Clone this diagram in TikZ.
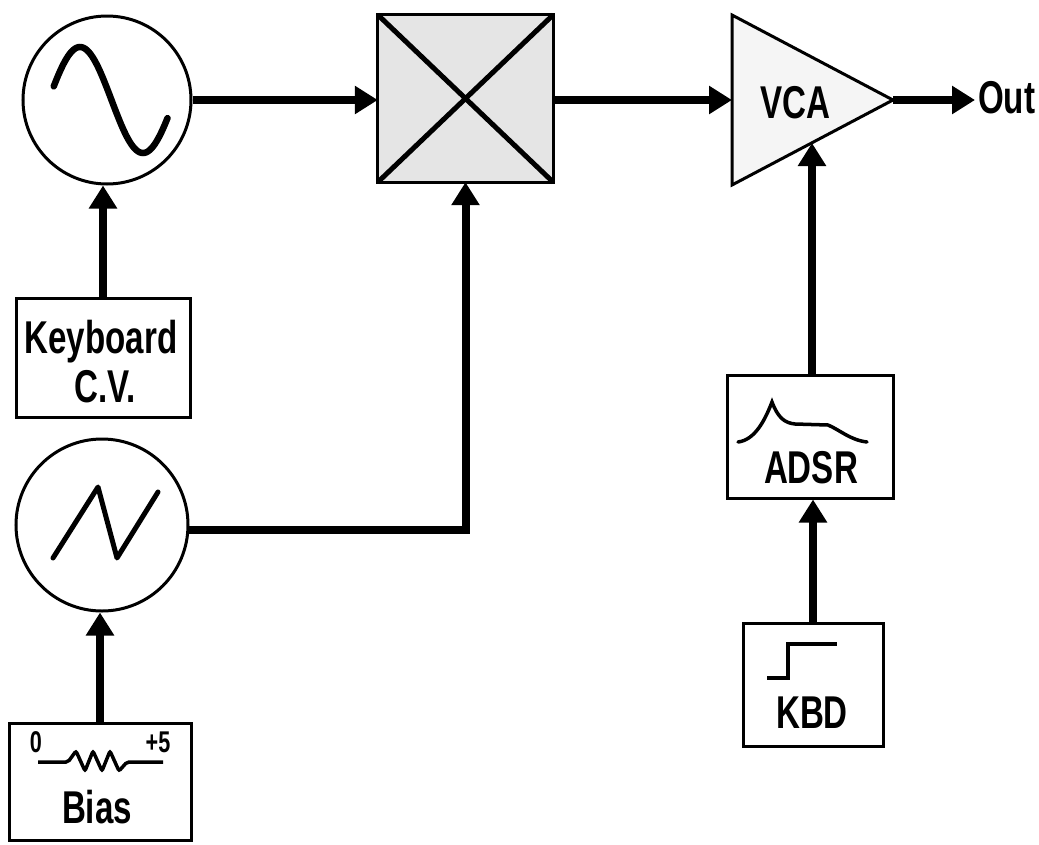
\documentclass[tikz,border=0pt]{standalone}
\usepackage{fontspec}
\setmainfont{Liberation Sans}[FakeStretch=0.72]
\usetikzlibrary{arrows.meta,calc}
\begin{document}
\begin{tikzpicture}[x=1pt,y=-1pt,
 box/.style={draw, line width=3pt, rectangle, inner sep=0pt},
 osc/.style={draw, line width=3pt, circle, inner sep=0pt},
 conn/.style={line width=8pt, -{Triangle[length=23pt,width=27pt]}},
 big/.style={font=\fontsize{46}{50}\selectfont\bfseries, inner sep=0pt},
 small/.style={font=\fontsize{30}{33}\selectfont\bfseries, inner sep=0pt},
 icon/.style={line width=5pt, line cap=round, line join=round}]
\useasboundingbox (0,0) rectangle (1039,844);
% oscillators and boxes
\node[osc, minimum size=168pt] (sine) at (107,100) {};
\node[fill=gray!20, inner sep=0pt, minimum width=175pt, minimum height=167pt] (mix) at (465.5,98.5) {};
\draw[line width=5pt] (mix.north west) -- (mix.south east) (mix.north east) -- (mix.south west);
\draw[line width=3pt] (mix.north west) rectangle (mix.south east);
\coordinate (vcaA) at (732,15);
\coordinate (vcaC) at (732,185);
\coordinate (vcaT) at (893,100);
\coordinate (vcaL) at (732,100);
\coordinate (vcaB) at (812,143);
\filldraw[fill=gray!8, line width=3pt, line join=miter] (vcaA) -- (vcaT) -- (vcaC) -- cycle;
\node[big, anchor=base] (vcalabel) at (795,118) {VCA};
\node[big, anchor=base west] (out) at (978,113) {Out};
\node[box, minimum width=174pt, minimum height=119pt] (kb) at (103,357.5) {};
\node[osc, minimum size=172pt] (saw) at (102,525) {};
\node[box, minimum width=182pt, minimum height=117pt] (bias) at (100,781.5) {};
\node[box, minimum width=166pt, minimum height=123pt] (adsr) at (810,436.5) {};
\node[box, minimum width=140pt, minimum height=123pt] (kbd) at (813,684.5) {};
% icons
\draw[line width=6.5pt, line cap=round] plot[domain=-165:160, samples=80] ({111.5 + \x*63/180}, {100 + 53*sin(\x)});
\draw[icon] (53,558) -- (98,487) -- (117,558) -- (158,492);
\draw[line width=3.5pt, line cap=round] (738,442) .. controls (755,440) and (765,420) .. (772,402)
  .. controls (778,418) and (785,423) .. (795,424) -- (828,425)
  .. controls (840,430) and (850,440) .. (867,442);
\draw[line width=4pt] (767,678) -- (788,678) -- (788,644) -- (837,644);
\draw[line width=3.5pt, rounded corners=2pt] (38,762) -- (68,762) -- (76,751) -- (85,771) -- (93,751) -- (102,771) -- (110,751) -- (119,771) -- (127,762) -- (163,762);
% texts
\node[big, anchor=base] (kbt1) at (101,353) {Keyboard};
\node[big, anchor=base] (kbt2) at (105,402) {C.V.};
\node[big, anchor=base] (adsrt) at (811,483) {ADSR};
\node[big, anchor=base] (kbdt) at (812,728) {KBD};
\node[big, anchor=base] (biast) at (97,823) {Bias};
\node[small, anchor=base] (zero) at (36,752) {0};
\node[small, anchor=base] (plus5) at (158,752) {+5};
% connectors
\draw[conn] (sine.east) -- (sine.east -| mix.west);
\draw[conn] (mix.east |- vcaL) -- (vcaL);
\draw[conn, shorten >=3pt] (vcaT) -- (out.west |- vcaT);
\draw[conn] (kb.north) -- (kb.north |- sine.south);
\draw[conn] (bias.north) -- (bias.north |- saw.south);
\draw[conn] (saw.-3) -| (mix.south);
\draw[conn] (kbd.north) -- (kbd.north |- adsr.south);
\draw[conn] (adsr.north -| vcaB) -- (vcaB);
\end{tikzpicture}
\end{document}
